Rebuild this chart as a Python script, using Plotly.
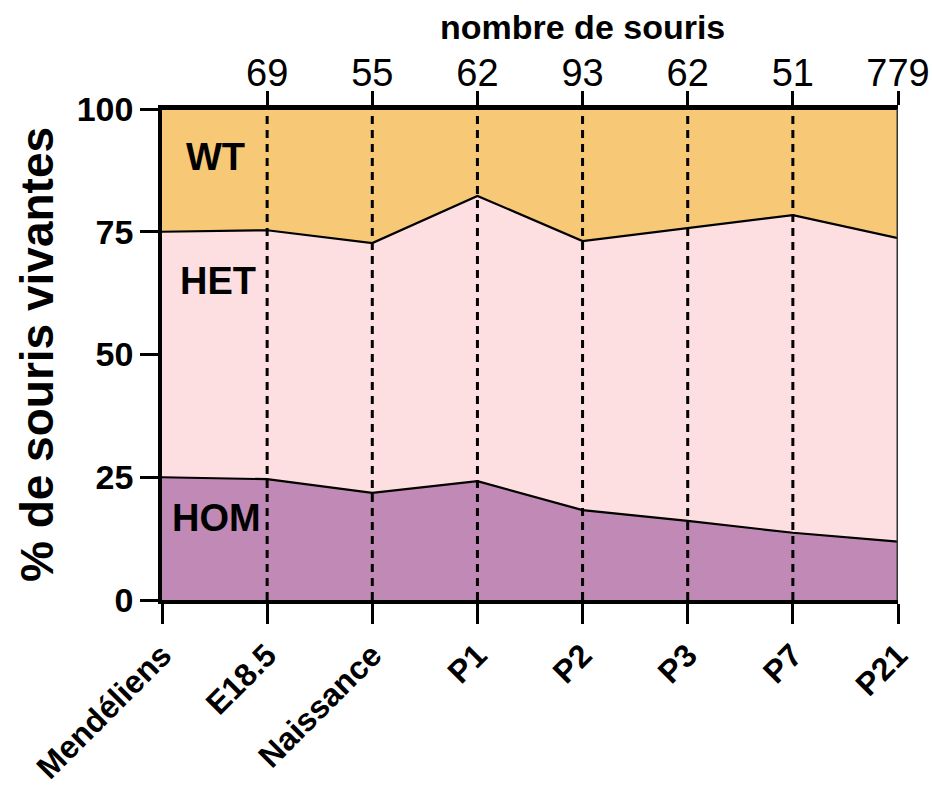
import plotly.graph_objects as go

# Stages and genotype percentages (HOM at the bottom, then HET, then WT)
stages = ["Mendéliens", "E18.5", "Naissance", "P1", "P2", "P3", "P7", "P21"]
hom = [25.0, 24.6, 21.8, 24.2, 18.3, 16.1, 13.7, 11.9]
het = [50.0, 50.7, 50.9, 58.1, 54.8, 59.7, 64.7, 61.8]
wt = [25.0, 24.7, 27.3, 17.7, 26.9, 24.2, 21.6, 26.3]
counts = ["69", "55", "62", "93", "62", "51", "779"]

FONT = "Arial, Liberation Sans, sans-serif"
L, R, T, B = 162, 898, 109, 600   # plot frame in pixels
fig = go.Figure()

for name, vals, col in [("HOM", hom, "#C189B6"), ("HET", het, "#FDDFE2"), ("WT", wt, "#F7C875")]:
    fig.add_trace(go.Scatter(
        x=stages, y=vals, name=name, stackgroup="g", mode="lines",
        line=dict(color="black", width=2.2), fillcolor=col, showlegend=False,
    ))

# invisible trace to carry the top axis (sample sizes)
fig.add_trace(go.Scatter(x=stages, y=[None] * len(stages), xaxis="x2", showlegend=False))

# dashed separators at each stage
shapes = []
for s in stages[1:-1]:
    shapes.append(dict(type="line", xref="x", yref="y", x0=s, x1=s, y0=0, y1=100,
                       line=dict(color="black", width=3, dash="8px,6px"), layer="above"))
shapes.append(dict(type="line", xref="x", yref="y", x0=stages[-1], x1=stages[-1], y0=0, y1=100,
                   line=dict(color="#333333", width=3), layer="above"))

lab_font = dict(family=FONT, size=38, color="black")
annotations = [
    dict(x=0.51, y=90.3, xref="x", yref="y", text="<b>WT</b>", showarrow=False, font=lab_font),
    dict(x=0.53, y=65.0, xref="x", yref="y", text="<b>HET</b>", showarrow=False, font=lab_font),
    dict(x=0.52, y=16.6, xref="x", yref="y", text="<b>HOM</b>", showarrow=False, font=lab_font),
    dict(x=(582 - L) / (R - L), y=(B - 27) / (B - T), xref="paper", yref="paper",
         xanchor="center", yanchor="middle", text="<b>nombre de souris</b>",
         showarrow=False, font=dict(family=FONT, size=34, color="black")),
]

fig.update_layout(
    width=932, height=790,
    margin=dict(l=L, r=932 - R, t=T, b=790 - B),
    paper_bgcolor="white", plot_bgcolor="white",
    font=dict(family=FONT, color="black"),
    shapes=shapes, annotations=annotations,
    xaxis=dict(
        type="category", categoryorder="array", categoryarray=stages, automargin=False,
        range=[0, len(stages) - 1], showgrid=False, zeroline=False,
        showline=True, linecolor="black", linewidth=3.5,
        ticks="outside", ticklen=20, tickwidth=3, tickcolor="black",
        tickangle=-45, tickfont=dict(family=FONT, size=32, weight="bold", color="black"),
    ),
    xaxis2=dict(
        type="category", categoryorder="array", categoryarray=stages, automargin=False,
        overlaying="x", side="top", anchor="y",
        range=[0, len(stages) - 1], showgrid=False, zeroline=False,
        showline=True, linecolor="black", linewidth=3.5,
        ticks="outside", ticklen=14, tickwidth=3, tickcolor="black",
        tickmode="array", tickvals=stages[1:], ticktext=counts, tickangle=0,
        ticklabelstandoff=-10,
        tickfont=dict(family=FONT, size=38, color="black"),
    ),
    yaxis=dict(
        range=[0, 100], tickvals=[0, 25, 50, 75, 100], showgrid=False, zeroline=False,
        automargin=False, showline=True, linecolor="black", linewidth=3.5,
        ticks="outside", ticklen=18, tickwidth=3, tickcolor="black",
        tickfont=dict(family=FONT, size=34, weight="bold", color="black"),
        title=dict(text="<b>% de souris vivantes</b>", font=dict(family=FONT, size=46, color="black"),
                   standoff=10),
    ),
)

fig.write_html("out.html")
